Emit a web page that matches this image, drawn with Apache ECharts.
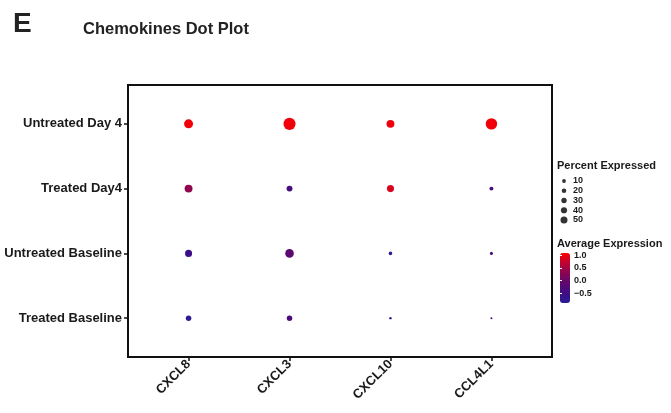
<!DOCTYPE html>
<html>
<head>
<meta charset="utf-8">
<script src="https://cdn.jsdelivr.net/npm/echarts@6/dist/echarts.min.js"></script>
<style>
html,body{margin:0;padding:0;background:#fff;}
#c{width:671px;height:413px;}
</style>
</head>
<body>
<div id="c"></div>
<script>
// ---- data ----
const genes = ['CXCL8', 'CXCL3', 'CXCL10', 'CCL4L1'];
// groups from bottom to top
const groups = ['Treated Baseline', 'Untreated Baseline', 'Treated Day4', 'Untreated Day 4'];
// percent expressed, rows follow groups, columns follow genes
const pctTreatedBaseline   = [25, 25, 11, 9];
const pctUntreatedBaseline = [32, 39, 16, 14];
const pctTreatedDay4       = [36, 27, 32, 18];
const pctUntreatedDay4     = [41, 55, 36, 52];
// average expression (scaled)
const avgTreatedBaseline   = [-0.85, -0.35, -0.80, -0.40];
const avgUntreatedBaseline = [-0.55, -0.15, -0.75, -0.40];
const avgTreatedDay4       = [0.35, -0.40, 0.85, -0.35];
const avgUntreatedDay4     = [1.00, 1.00, 0.98, 1.00];
// legend breaks
const sizeBreaks = [10, 20, 30, 40, 50];
const colorTicks = [-0.5, 0.0, 0.5, 1.0];
const colorMin = -0.88, colorMax = 1.08;

const pctRows = [pctTreatedBaseline, pctUntreatedBaseline, pctTreatedDay4, pctUntreatedDay4];
const avgRows = [avgTreatedBaseline, avgUntreatedBaseline, avgTreatedDay4, avgUntreatedDay4];

const points = [];
pctRows.forEach((row, r) => {
  row.forEach((p, g) => {
    points.push([g + 1, r + 1, avgRows[r][g], p]);
  });
});

const FONT = "'Liberation Sans', Arial, Helvetica, sans-serif";
const TXT = '#1a1a1a';

const chart = echarts.init(document.getElementById('c'), null, {renderer: 'canvas'});
chart.setOption({
  backgroundColor: '#fff',
  animation: false,
  title: [
    {text: 'E', left: 8, top: 5, textStyle: {fontFamily: FONT, fontWeight: 'bold', fontSize: 28, color: '#222'}},
    {text: 'Chemokines Dot Plot', left: 78, top: 16, textStyle: {fontFamily: FONT, fontWeight: 'bold', fontSize: 16.5, color: '#222'}}
  ],
  graphic: [
    {type: 'text', left: 557, top: 160, style: {text: 'Percent Expressed', font: "bold 11px " + FONT, fill: TXT}},
    {type: 'text', left: 557, top: 238, style: {text: 'Average Expression', font: "bold 11px " + FONT, fill: TXT}}
  ],
  grid: [
    {left: 128, top: 85, width: 424, height: 272, show: true, borderColor: '#111', borderWidth: 2, backgroundColor: '#fff'},
    {left: 556, top: 176.1, width: 16, height: 48.75},
    {left: 560, top: 253, width: 10, height: 50}
  ],
  xAxis: [
    {type: 'value', gridIndex: 0, min: 0.4, max: 4.6,
     axisLine: {show: true, lineStyle: {color: '#111', width: 2}},
     axisTick: {show: true, length: 4, lineStyle: {color: '#111', width: 1.5}, customValues: [1, 2, 3, 4]},
     splitLine: {show: false},
     axisLabel: {customValues: [1, 2, 3, 4], rotate: 45, margin: 5,
       formatter: v => genes[Math.round(v) - 1],
       fontFamily: FONT, fontWeight: 'bold', fontSize: 13, color: TXT}},
    {type: 'value', gridIndex: 1, min: -1, max: 1, show: false},
    {type: 'value', gridIndex: 2, min: 0, max: 1, show: false}
  ],
  yAxis: [
    {type: 'value', gridIndex: 0, min: 0.4, max: 4.6,
     axisLine: {show: true, lineStyle: {color: '#111', width: 2}},
     axisTick: {show: true, length: 4, lineStyle: {color: '#111', width: 1.5}, customValues: [1, 2, 3, 4]},
     splitLine: {show: false},
     axisLabel: {customValues: [1, 2, 3, 4], margin: 6,
       formatter: v => groups[Math.round(v) - 1],
       fontFamily: FONT, fontWeight: 'bold', fontSize: 13, color: TXT}},
    {type: 'value', gridIndex: 1, min: 5, max: 55, inverse: true, position: 'right',
     axisLine: {show: false}, axisTick: {show: false}, splitLine: {show: false},
     axisLabel: {customValues: sizeBreaks, margin: 1, fontFamily: FONT, fontWeight: 'bold', fontSize: 9, color: TXT}},
    {type: 'value', gridIndex: 2, min: colorMin, max: colorMax, position: 'right', z: 10,
     axisLine: {show: false},
     axisTick: {show: true, inside: true, length: 2, lineStyle: {color: '#fff', width: 1}, customValues: colorTicks},
     splitLine: {show: false},
     axisLabel: {customValues: colorTicks, margin: 4,
       formatter: v => (v < 0 ? '\u2212' + Math.abs(v).toFixed(1) : v.toFixed(1)),
       fontFamily: FONT, fontWeight: 'bold', fontSize: 9, color: TXT}},
    {type: 'value', gridIndex: 2, min: colorMin, max: colorMax, position: 'left', z: 10,
     axisLine: {show: false},
     axisTick: {show: true, inside: true, length: 2, lineStyle: {color: '#fff', width: 1}, customValues: colorTicks},
     splitLine: {show: false}, axisLabel: {show: false}}
  ],
  visualMap: [{
    type: 'continuous', seriesIndex: 0, dimension: 2,
    min: colorMin, max: colorMax, calculable: false, hoverLink: false,
    left: 560, top: 253, itemWidth: 10, itemHeight: 50, padding: 0,
    inRange: {color: ['#2a1c96', '#3c0f86', '#530a74', '#740660', '#9a0448', '#c8022a', '#ff0000']}
  }],
  series: [
    {type: 'scatter', xAxisIndex: 0, yAxisIndex: 0, data: points,
     symbolSize: d => d[3] * 0.22,
     itemStyle: {opacity: 1}},
    {type: 'scatter', xAxisIndex: 1, yAxisIndex: 1,
     data: sizeBreaks.map(b => [0, b]),
     symbolSize: d => 3 + d[1] * 0.08,
     itemStyle: {color: '#000'}}
  ]
});
</script>
</body>
</html>
